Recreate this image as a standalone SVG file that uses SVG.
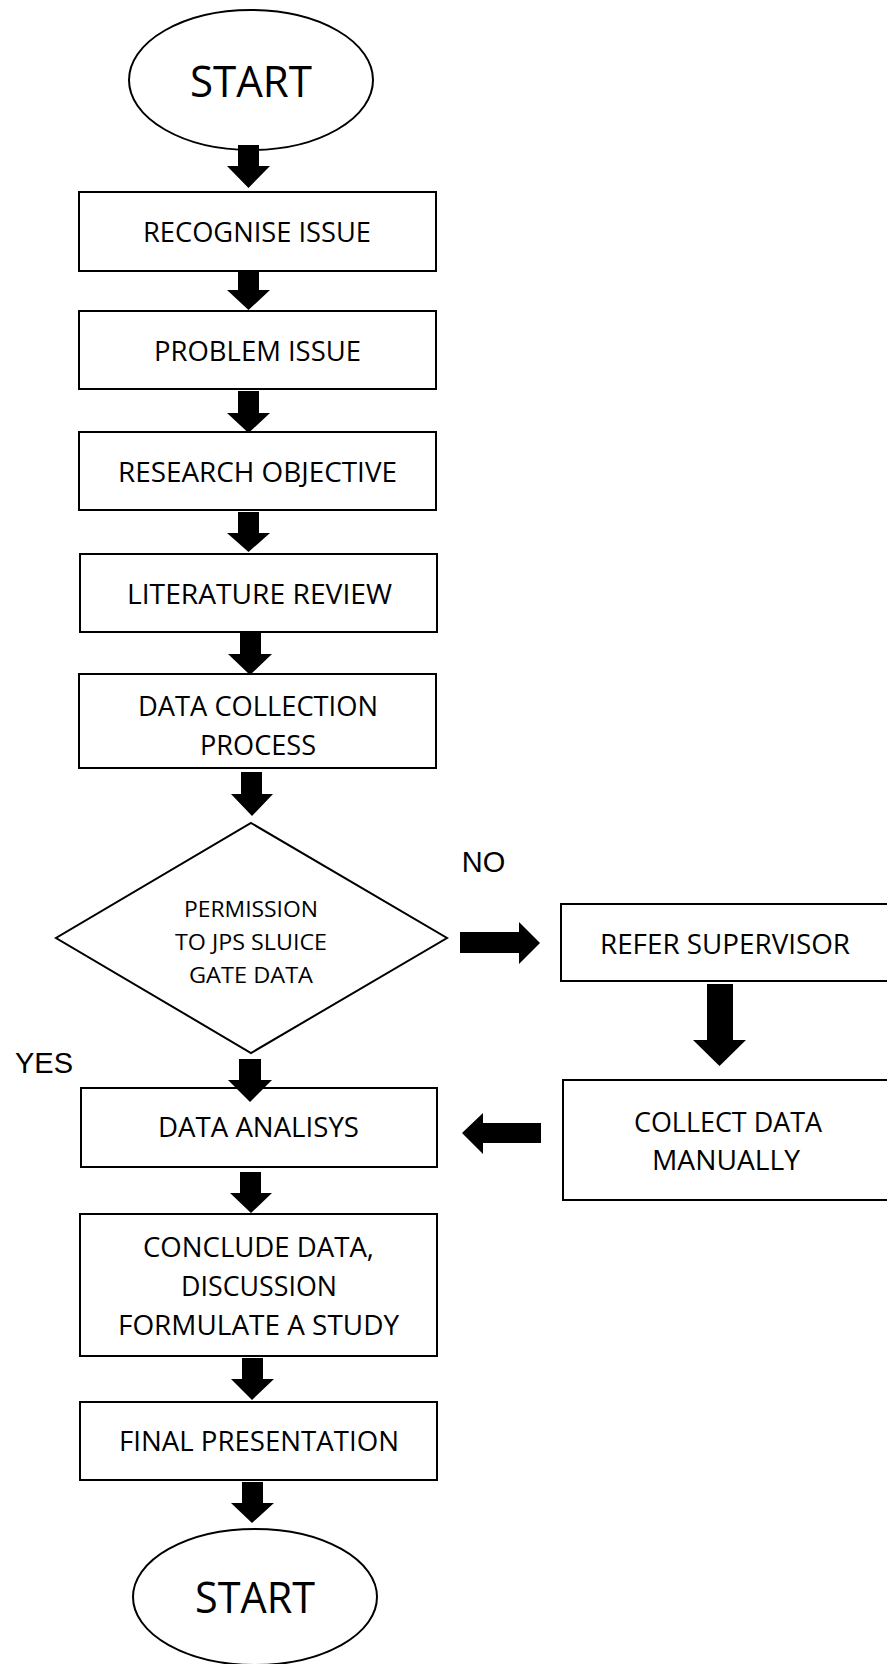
<svg xmlns="http://www.w3.org/2000/svg" width="887" height="1664" viewBox="0 0 887 1664">
<style>
.n{fill:#fff;stroke:#000;stroke-width:2}
.t{font-family:"Open Sans","Liberation Sans",sans-serif;font-size:28px;fill:#000;text-anchor:middle}
.s{font-size:44px}
.d{font-size:22px}
.a{font-family:"Liberation Sans",Arial,sans-serif;font-size:29px;fill:#000;text-anchor:middle}
.c{fill:#000;stroke:none}
</style>
<rect width="887" height="1664" fill="#fff"/>
<g id="start">
<ellipse class="n" cx="251" cy="80" rx="122" ry="70"/>
<text class="t s" x="251" y="97" textLength="122" lengthAdjust="spacingAndGlyphs">START</text>
</g>
<g id="recognise">
<rect class="n" x="79" y="192" width="357" height="79"/>
<text class="t" x="257" y="242" textLength="228" lengthAdjust="spacingAndGlyphs">RECOGNISE ISSUE</text>
</g>
<g id="problem">
<rect class="n" x="79" y="311" width="357" height="78"/>
<text class="t" x="257.5" y="361" textLength="207" lengthAdjust="spacingAndGlyphs">PROBLEM ISSUE</text>
</g>
<g id="research">
<rect class="n" x="79" y="432" width="357" height="78"/>
<text class="t" x="257.5" y="482" textLength="279" lengthAdjust="spacingAndGlyphs">RESEARCH OBJECTIVE</text>
</g>
<g id="literature">
<rect class="n" x="80" y="554" width="357" height="78"/>
<text class="t" x="259.5" y="604" textLength="265" lengthAdjust="spacingAndGlyphs">LITERATURE REVIEW</text>
</g>
<g id="collection">
<rect class="n" x="79" y="674" width="357" height="94"/>
<text class="t" x="258" y="716" textLength="240" lengthAdjust="spacingAndGlyphs">DATA COLLECTION</text>
<text class="t" x="258" y="755" textLength="116" lengthAdjust="spacingAndGlyphs">PROCESS</text>
</g>
<g id="permission">
<polygon class="n" points="251,823 447,938 251,1053 56,938"/>
<text class="t d" x="251" y="917" textLength="134" lengthAdjust="spacingAndGlyphs">PERMISSION</text>
<text class="t d" x="251" y="950" textLength="152" lengthAdjust="spacingAndGlyphs">TO JPS SLUICE</text>
<text class="t d" x="251" y="983" textLength="124" lengthAdjust="spacingAndGlyphs">GATE DATA</text>
</g>
<g id="labels">
<text class="a" x="483.5" y="872">NO</text>
<text class="a" x="44" y="1073">YES</text>
</g>
<g id="refer">
<rect class="n" x="561" y="904" width="330" height="77"/>
<text class="t" x="725" y="954" textLength="250" lengthAdjust="spacingAndGlyphs">REFER SUPERVISOR</text>
</g>
<g id="manual">
<rect class="n" x="563" y="1080" width="328" height="120"/>
<text class="t" x="728" y="1132" textLength="188" lengthAdjust="spacingAndGlyphs">COLLECT DATA</text>
<text class="t" x="726" y="1170" textLength="148" lengthAdjust="spacingAndGlyphs">MANUALLY</text>
</g>
<g id="analysis">
<rect class="n" x="81" y="1088" width="356" height="79"/>
<text class="t" x="258.5" y="1137" textLength="201" lengthAdjust="spacingAndGlyphs">DATA ANALISYS</text>
</g>
<g id="conclude">
<rect class="n" x="80" y="1214" width="357" height="142"/>
<text class="t" x="258.5" y="1257" textLength="231" lengthAdjust="spacingAndGlyphs">CONCLUDE DATA,</text>
<text class="t" x="259" y="1296" textLength="156" lengthAdjust="spacingAndGlyphs">DISCUSSION</text>
<text class="t" x="258.5" y="1335" textLength="281" lengthAdjust="spacingAndGlyphs">FORMULATE A STUDY</text>
</g>
<g id="final">
<rect class="n" x="80" y="1402" width="357" height="78"/>
<text class="t" x="259" y="1451" textLength="280" lengthAdjust="spacingAndGlyphs">FINAL PRESENTATION</text>
</g>
<g id="end">
<ellipse class="n" cx="255" cy="1597" rx="122" ry="68"/>
<text class="t s" x="255" y="1613" textLength="120" lengthAdjust="spacingAndGlyphs">START</text>
</g>
<g id="connectors">
<polygon class="c" points="238,145 259,145 259,166 270,166 248.5,188 227,166 238,166"/>
<polygon class="c" points="238,271 259,271 259,290 270,290 248.5,310 227,290 238,290"/>
<polygon class="c" points="238,391 259,391 259,413 270,413 248.5,433 227,413 238,413"/>
<polygon class="c" points="238,512 259,512 259,533 270,533 248.5,552 227,533 238,533"/>
<polygon class="c" points="240,633 261,633 261,654 272,654 250,675 228,654 240,654"/>
<polygon class="c" points="241,772 262,772 262,794 273,794 252,816 231,794 241,794"/>
<polygon class="c" points="239,1059 261,1059 261,1080 272,1080 250,1102 228,1080 239,1080"/>
<polygon class="c" points="240,1172 261,1172 261,1193 272,1193 251,1213 230,1193 240,1193"/>
<polygon class="c" points="242,1358 263,1358 263,1379 274,1379 252,1400 231,1379 242,1379"/>
<polygon class="c" points="242,1482 263,1482 263,1503 274,1503 252,1523 231,1503 242,1503"/>
<polygon class="c" points="460,932 519,932 519,922 540,943 519,964 519,953 460,953"/>
<polygon class="c" points="707,984 733,984 733,1040 746,1040 719.5,1066 693,1040 707,1040"/>
<polygon class="c" points="541,1123 483,1123 483,1113 462,1133 483,1154 483,1143 541,1143"/>
</g>
</svg>
